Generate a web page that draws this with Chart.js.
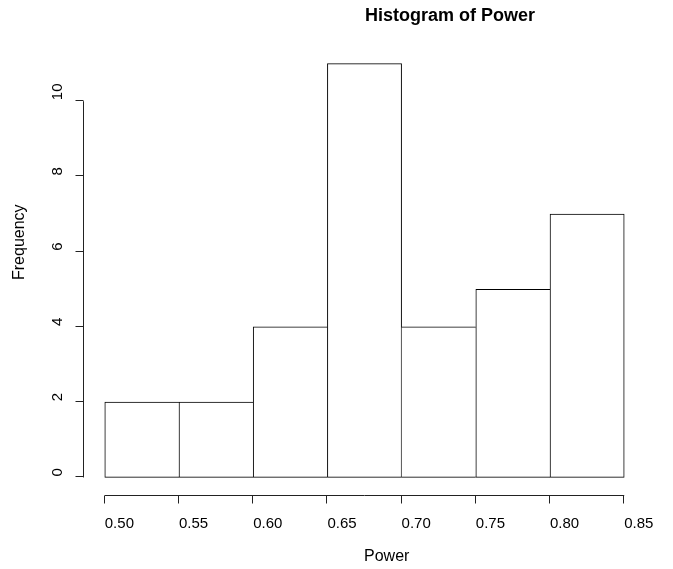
<!DOCTYPE html>
<html>
<head>
<meta charset="utf-8">
<script src="https://cdn.jsdelivr.net/npm/chart.js@4"></script>
<style>
  body { margin: 0; background: #fff; }
  #wrap { width: 673px; height: 569px; position: relative; }
</style>
</head>
<body>
<div id="wrap"><canvas id="hist-chart"></canvas></div>
<script>
const breaks = [0.50, 0.55, 0.60, 0.65, 0.70, 0.75, 0.80, 0.85];
const counts = [2, 2, 4, 11, 4, 5, 7];
const xTickLabels = ["0.50", "0.55", "0.60", "0.65", "0.70", "0.75", "0.80", "0.85"];
const yTicks = [0, 2, 4, 6, 8, 10];

const titleText = "Histogram of Power";
const xTitle = "Power";
const yTitle = "Frequency";

const binData = counts.map((c, i) => ({ x: (breaks[i] + breaks[i + 1]) / 2, y: c }));

// shared edges are drawn once, by the taller of the two bars
function edgeWidths(c) {
    const i = c.dataIndex;
    const last = counts.length - 1;
    return {
        top: 1,
        bottom: 1,
        left: (i === 0 || counts[i - 1] <= counts[i]) ? 1 : 0,
        right: (i === last || counts[i + 1] < counts[i]) ? 1 : 0
    };
}

// R style axes, drawn off the chart's own scales
const rAxes = {
    id: 'rAxes',
    afterDraw(chart) {
        const ctx = chart.ctx;
        const xs = chart.scales.x;
        const ys = chart.scales.y;
        const area = chart.chartArea;
        ctx.save();
        ctx.strokeStyle = '#222';
        ctx.fillStyle = '#000';
        ctx.lineWidth = 1;

        // y axis
        const ax = Math.round(area.left) - 0.5;
        ctx.beginPath();
        ctx.moveTo(ax, ys.getPixelForValue(yTicks[0]));
        ctx.lineTo(ax, ys.getPixelForValue(yTicks[yTicks.length - 1]));
        yTicks.forEach(v => {
            const py = Math.round(ys.getPixelForValue(v)) - 0.5;
            ctx.moveTo(ax, py);
            ctx.lineTo(ax - 8, py);
        });
        ctx.stroke();

        ctx.font = '15px "Liberation Sans", Arial, sans-serif';
        ctx.textBaseline = 'middle';
        ctx.textAlign = 'left';
        yTicks.forEach(v => {
            ctx.save();
            ctx.translate(58, ys.getPixelForValue(v) - 1);
            ctx.rotate(-Math.PI / 2);
            ctx.fillText(String(v), 0, 0);
            ctx.restore();
        });

        // x axis
        const ay = Math.round(area.bottom) + 1.5;
        ctx.beginPath();
        ctx.moveTo(xs.getPixelForValue(breaks[0]), ay);
        ctx.lineTo(xs.getPixelForValue(breaks[breaks.length - 1]), ay);
        breaks.forEach(v => {
            const px = Math.round(xs.getPixelForValue(v)) - 0.5;
            ctx.moveTo(px, ay);
            ctx.lineTo(px, ay + 8);
        });
        ctx.stroke();

        breaks.forEach((v, i) => {
            ctx.fillText(xTickLabels[i], xs.getPixelForValue(v), 524);
        });

        // titles
        ctx.font = '16px "Liberation Sans", Arial, sans-serif';
        ctx.fillText(xTitle, 364, 557);
        ctx.save();
        ctx.translate(20, 280);
        ctx.rotate(-Math.PI / 2);
        ctx.fillText(yTitle, 0, 0);
        ctx.restore();

        ctx.font = 'bold 18px "Liberation Sans", Arial, sans-serif';
        ctx.fillText(titleText, 365, 16);
        ctx.restore();
    }
};

const histCtx = document.getElementById('hist-chart').getContext('2d');

const histChart = new Chart(histCtx, {
    type: 'bar',
    data: {
        datasets: [{
            data: binData,
            backgroundColor: '#ffffff',
            borderColor: '#000000',
            borderSkipped: false,
            borderWidth: edgeWidths,
            barPercentage: 1,
            categoryPercentage: 1
        }]
    },
    options: {
        responsive: true,
        maintainAspectRatio: false,
        animation: false,
        layout: { padding: { left: 84, right: 28, top: 47, bottom: 75 } },
        plugins: { legend: { display: false }, tooltip: { enabled: false } },
        scales: {
            x: {
                type: 'linear',
                display: false,
                offset: false,
                grid: { offset: false },
                min: 0.486,
                max: 0.864
            },
            y: {
                display: false,
                min: -0.44,
                max: 11.44
            }
        }
    },
    plugins: [rAxes]
});
</script>
</body>
</html>
